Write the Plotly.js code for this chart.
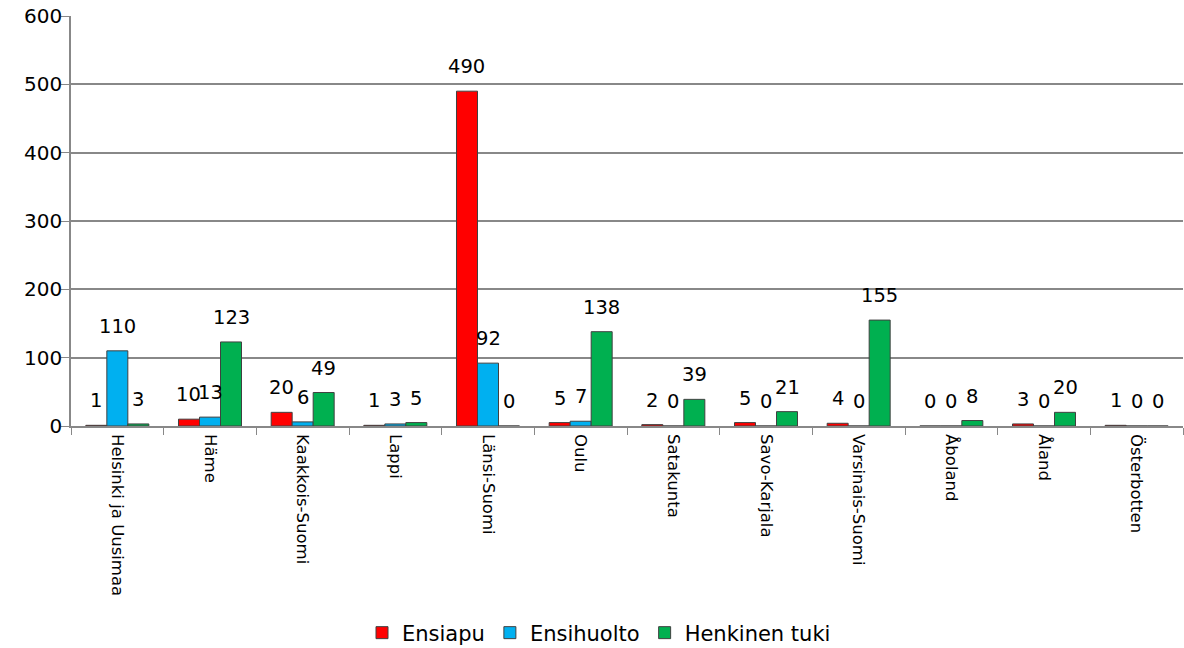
<!DOCTYPE html>
<html><head><meta charset="utf-8">
<script src="https://cdn.plot.ly/plotly-3.0.1.min.js"></script>
<style>html,body{margin:0;padding:0;background:#fff}#chart{width:1184px;height:648px}</style>
</head><body><div id="chart"></div>
<script>
const categories = ["Helsinki ja Uusimaa","Häme","Kaakkois-Suomi","Lappi","Länsi-Suomi","Oulu","Satakunta","Savo-Karjala","Varsinais-Suomi","Åboland","Åland","Österbotten"];
const ensiapu = [1,10,20,1,490,5,2,5,4,0,3,1];
const ensihuolto = [110,13,6,3,92,7,0,0,0,0,0,0];
const henkinenTuki = [3,123,49,5,0,138,39,21,155,8,20,0];
const seriesNames = ["Ensiapu","Ensihuolto","Henkinen tuki"];
const colors = ["#ff0000","#00b0f0","#00b050"];
const values = [ensiapu, ensihuolto, henkinenTuki];
const font = "DejaVu Sans, Verdana, sans-serif";

const W = 1184, H = 648, ML = 71, MR = 1, MT = 16, MB = 222, BARGAP = 0.32;
const barPx = (W - ML - MR) / categories.length * (1 - BARGAP) / values.length;

const traces = values.map((v,i)=>({
  type:"bar", name:seriesNames[i], x:categories, y:v,
  marker:{color:colors[i], line:{color:"#404040", width:1}},
  hoverinfo:"x+y+name"
}));
const annotations = [];
values.forEach((v,i)=>{
  v.forEach((val,j)=>{
    annotations.push({x:categories[j], y:val, xref:"x", yref:"y", text:String(val),
      showarrow:false, xanchor:"center", yanchor:"bottom",
      xshift:(i-1)*barPx, yshift:11, font:{family:font, size:19.5, color:"#000"}});
  });
});
const layout = {
  width:W, height:H,
  margin:{l:ML, r:MR, t:MT, b:MB},
  barmode:"group", bargap:BARGAP, bargroupgap:0,
  paper_bgcolor:"#fff", plot_bgcolor:"#fff",
  font:{family:font, color:"#000"},
  annotations:annotations,
  xaxis:{type:"category", tickangle:90, tickfont:{family:font, size:16.5},
    showline:true, linecolor:"#888", linewidth:1.5, ticks:"outside", tickson:"boundaries",
    ticklen:7, tickcolor:"#888", showgrid:false, automargin:false, ticklabelstandoff:3},
  yaxis:{range:[0,600], dtick:100, tickfont:{family:font, size:20},
    showline:true, linecolor:"#888", linewidth:1.5, gridcolor:"#888", gridwidth:1.5,
    ticks:"outside", ticklen:8, tickcolor:"#888", zeroline:false, automargin:false,
    ticklabelstandoff:-5},
  showlegend:true,
  legend:{orientation:"h", x:0.5 + 7/W, xanchor:"center", xref:"container",
    y:1-633/H, yanchor:"middle", yref:"container",
    font:{family:font, size:21}, traceorder:"normal", itemwidth:30}
};
Plotly.newPlot("chart", traces, layout, {displayModeBar:false});
</script></body></html>
